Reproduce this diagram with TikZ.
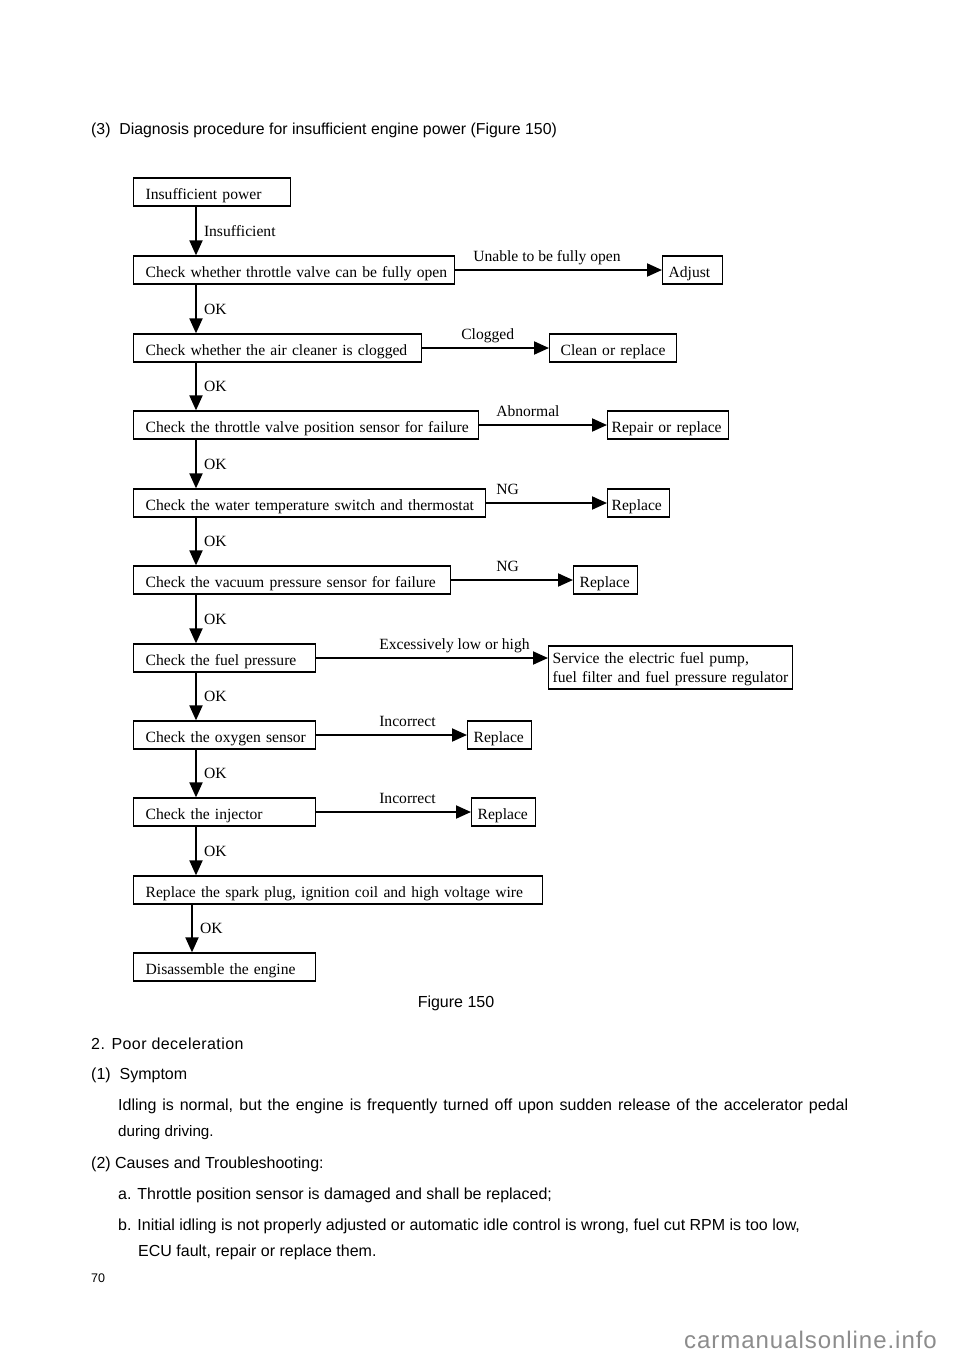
\documentclass[tikz,border=0pt]{standalone}
\usepackage{fontspec}
\setmainfont{Liberation Serif}
\newfontfamily\pagefont{Liberation Sans}
\usetikzlibrary{arrows.meta, positioning}
\tikzset{font={\fontsize{15.6}{19}\selectfont}}
\tikzset{
	box/.style={draw, line width=1.3pt, anchor=west, inner xsep=4pt, inner ysep=0pt,
		minimum height=28pt, text width=#1},
	padbox/.style 2 args={box=#1, text height=15pt, text depth=1pt,
		execute at begin node={\rightskip=-80pt plus 1fil\relax\hspace*{#2}}},
	mainbox/.style={padbox={#1}{8pt}},
	sidebox/.style={padbox={#1}{2pt}},
	flow/.style={line width=2pt, -{Triangle[length=15pt, width=13pt]}},
	oklbl/.style={midway, right, inner sep=0pt, xshift=7pt},
	sidelbl/.style={at start, anchor=base west, inner sep=0pt, xshift=#1, yshift=9pt},
	pagetext/.style={anchor=west, inner sep=0pt, font={\pagefont\fontsize{16}{19}\selectfont}}
}

\begin{document}
\begin{tikzpicture}[x=1pt, y=-1pt]

	\useasboundingbox[fill=white] (0,0) rectangle (960,1358);

	\node (heading) [pagetext, font={\pagefont\fontsize{15.85}{19}\selectfont}] at (91,130.5) {(3)\ \ Diagnosis procedure for insufficient engine power (Figure 150)};

	% main column
	\node (ins_power) [mainbox=149pt] at (133,192) {Insufficient power};
	\node (chk_throttle) [mainbox=313pt] at (133,270) {Check whether throttle valve can be fully open};
	\node (chk_air) [mainbox=280pt] at (133,348) {Check whether the air cleaner is clogged};
	\node (chk_tps) [mainbox=337pt] at (133,425) {Check the throttle valve position sensor for failure};
	\node (chk_water) [mainbox=344pt] at (133,503) {Check the water temperature switch and thermostat};
	\node (chk_vacuum) [mainbox=309pt] at (133,580) {Check the vacuum pressure sensor for failure};
	\node (chk_fuel) [mainbox=174pt] at (133,658) {Check the fuel pressure};
	\node (chk_oxygen) [mainbox=174pt] at (133,735) {Check the oxygen sensor};
	\node (chk_injector) [mainbox=174pt] at (133,812) {Check the injector};
	\node (rep_spark) [mainbox=401pt] at (133,890) {Replace the spark plug, ignition coil and high voltage wire};
	\node (disassemble) [mainbox=174pt] at (133,967) {Disassemble the engine};

	% remedies
	\node (adjust) [sidebox=52pt] at (662,270) {Adjust};
	\node (clean) [padbox={119pt}{7pt}] at (549,348) {Clean or replace};
	\node (repair) [padbox={113pt}{0pt}] at (607,425) {Repair or replace};
	\node (rep_water) [padbox={54pt}{0pt}] at (607,503) {Replace};
	\node (rep_vacuum) [sidebox=56pt] at (573,580) {Replace};
	\node (service) [box=236pt, minimum height=43pt, text height=11pt, text depth=20pt] at (548,667.5) {Service the electric fuel pump,\\fuel filter and fuel pressure regulator};
	\node (rep_oxygen) [sidebox=56pt] at (467,735) {Replace};
	\node (rep_injector) [sidebox=56pt] at (471,812) {Replace};

	\coordinate (spine) at (196,0);
	\coordinate (spine_low) at (192,0);

	\draw[flow] (ins_power.south -| spine) -- node[oklbl] {Insufficient} (chk_throttle.north -| spine);
	\draw[flow] (chk_throttle.south -| spine) -- node[oklbl] {OK} (chk_air.north -| spine);
	\draw[flow] (chk_air.south -| spine) -- node[oklbl] {OK} (chk_tps.north -| spine);
	\draw[flow] (chk_tps.south -| spine) -- node[oklbl] {OK} (chk_water.north -| spine);
	\draw[flow] (chk_water.south -| spine) -- node[oklbl] {OK} (chk_vacuum.north -| spine);
	\draw[flow] (chk_vacuum.south -| spine) -- node[oklbl] {OK} (chk_fuel.north -| spine);
	\draw[flow] (chk_fuel.south -| spine) -- node[oklbl] {OK} (chk_oxygen.north -| spine);
	\draw[flow] (chk_oxygen.south -| spine) -- node[oklbl] {OK} (chk_injector.north -| spine);
	\draw[flow] (chk_injector.south -| spine) -- node[oklbl] {OK} (rep_spark.north -| spine);
	\draw[flow] (rep_spark.south -| spine_low) -- node[oklbl] {OK} (disassemble.north -| spine_low);

	\draw[flow] (chk_throttle.east) -- node[sidelbl=17pt] {Unable to be fully open} (adjust.west);
	\draw[flow] (chk_air.east) -- node[sidelbl=38pt] {Clogged} (clean.west);
	\draw[flow] (chk_tps.east) -- node[sidelbl=16pt] {Abnormal} (repair.west);
	\draw[flow] (chk_water.east) -- node[sidelbl=9pt] {NG} (rep_water.west);
	\draw[flow] (chk_vacuum.east) -- node[sidelbl=44pt] {NG} (rep_vacuum.west);
	\draw[flow] (chk_fuel.east) -- node[sidelbl=62pt] {Excessively low or high} (chk_fuel.east -| service.west);
	\draw[flow] (chk_oxygen.east) -- node[sidelbl=62pt] {Incorrect} (rep_oxygen.west);
	\draw[flow] (chk_injector.east) -- node[sidelbl=62pt] {Incorrect} (rep_injector.west);

	\node (caption) [pagetext, anchor=center] at (456,1003.5) {Figure 150};

	% text below the figure
	\node (sec_two) [pagetext] at (91,1043.5) {\addfontfeature{LetterSpace=2.8}2. Poor deceleration};
	\node (symptom) [pagetext] at (91,1075.5) {(1)\ \ Symptom};
	\node (symptom_a) [pagetext] at (118,1106.5) {\makebox[730pt][s]{Idling is normal, but the engine is frequently turned off upon sudden release of the accelerator pedal}};
	\node (symptom_b) [pagetext, font={\pagefont\fontsize{15.2}{18}\selectfont}] at (118,1132.5) {during driving.};
	\node (causes) [pagetext] at (91,1164.5) {(2) Causes and Troubleshooting:};
	\node (cause_a) [pagetext] at (118,1195.5) {a. Throttle position sensor is damaged and shall be replaced;};
	\node (cause_b) [pagetext] at (118,1226.5) {b. Initial idling is not properly adjusted or automatic idle control is wrong, fuel cut RPM is too low,};
	\node (cause_c) [pagetext] at (138,1252.5) {ECU fault, repair or replace them.};
	\node (page_no) [pagetext, font={\pagefont\fontsize{12.5}{14}\selectfont}] at (91,1278) {70};
	\node (watermark) [pagetext, text=black!45, font={\pagefont\fontsize{24}{28}\selectfont\addfontfeature{LetterSpace=4}}] at (684,1340) {carmanualsonline.info};

\end{tikzpicture}
\end{document}
